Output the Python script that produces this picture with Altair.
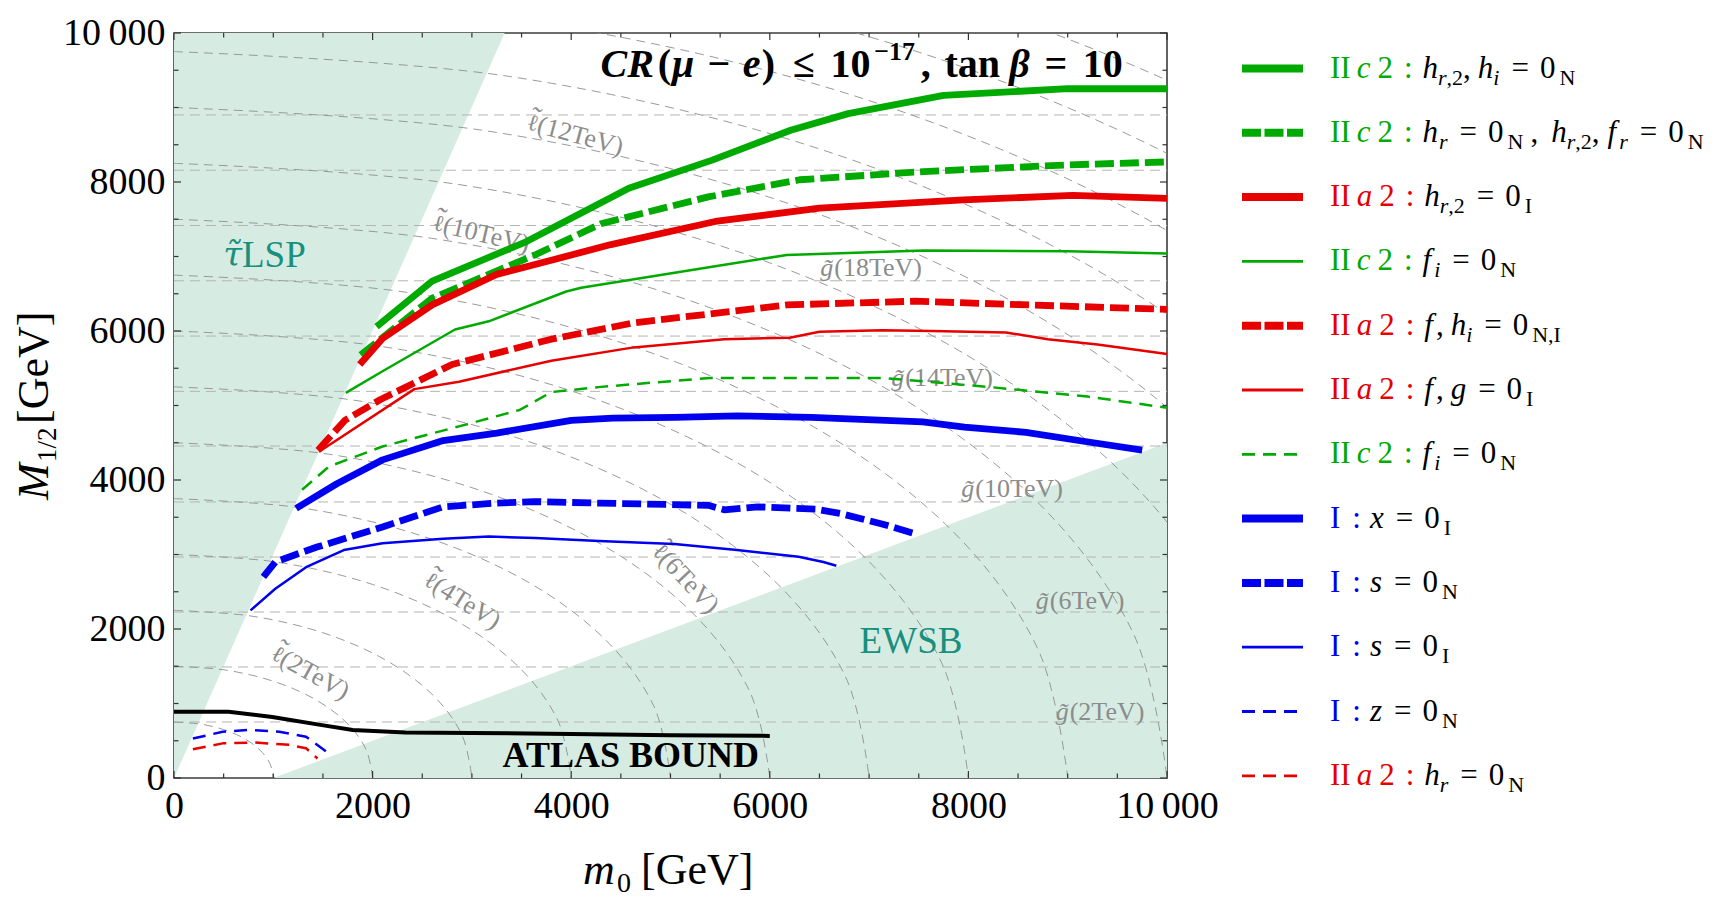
import math
import altair as alt
import pandas as pd

FONT = "Liberation Serif"
FONT2 = "DejaVu Serif"
W, H = 993, 745
PAD_L, PAD_T, PAD_R, PAD_B = 174, 33, 563, 137

GREEN, RED, BLUE = "#00aa00", "#e60000", "#0000ee"
TEAL, FILL = "#17907f", "#d6ece3"
GRID_H, GRID_ARC, LABEL_GRAY = "#b4b4b4", "#8e8e8e", "#8c8c8c"

# ---------------- curves (m0 [GeV], M1/2 [GeV]) ----------------
g_thick_m0 = [2040, 2600, 3550, 4580, 5420, 6210, 6790, 7750, 9000, 10000]
g_thick_m12 = [6060, 6670, 7200, 7915, 8294, 8695, 8918, 9163, 9252, 9252]

g_thickdash_m0 = [1880, 2600, 3650, 4300, 5380, 6300, 7550, 9000, 10000]
g_thickdash_m12 = [5680, 6440, 7030, 7440, 7800, 8030, 8140, 8230, 8270]

r_thick_m0 = [1870, 2100, 2600, 3250, 3800, 4400, 5450, 6500, 7950, 9050, 10000]
r_thick_m12 = [5550, 5900, 6350, 6760, 6950, 7160, 7470, 7650, 7760, 7820, 7780]

g_thin_m0 = [1730, 2100, 2830, 3170, 3950, 4100, 5450, 6170, 7550, 9000, 10000]
g_thin_m12 = [5170, 5460, 6020, 6130, 6530, 6580, 6870, 7020, 7080, 7070, 7040]

r_thickdash_m0 = [1450, 1720, 2080, 2800, 3800, 4630, 6170, 7460, 8380, 10000]
r_thickdash_m12 = [4400, 4800, 5080, 5550, 5890, 6110, 6350, 6400, 6360, 6290]

r_thin_m0 = [1460, 2420, 2870, 3800, 4630, 5540, 6200, 6500, 7130, 7630, 8380, 8800, 9300, 10000]
r_thin_m12 = [4380, 5220, 5320, 5600, 5780, 5890, 5910, 5990, 6010, 6000, 5980, 5890, 5820, 5690]

g_thindash_m0 = [1290, 1560, 2100, 2870, 3480, 3800, 4300, 5400, 7130, 8200, 9200, 10000]
g_thindash_m12 = [3870, 4180, 4450, 4720, 4940, 5180, 5250, 5370, 5370, 5250, 5120, 4970]

b_thick_m0 = [1230, 1640, 2100, 2710, 3250, 4000, 4420, 5040, 5670, 6420, 7540, 7960, 8580, 9210, 9750]
b_thick_m12 = [3620, 3950, 4270, 4530, 4630, 4800, 4830, 4840, 4860, 4840, 4780, 4710, 4640, 4510, 4400]

b_thickdash_m0 = [900, 1020, 1440, 2100, 2710, 3250, 3630, 4280, 5380, 5540, 5880, 6460, 6710, 7130, 7460]
b_thickdash_m12 = [2700, 2900, 3100, 3370, 3640, 3690, 3710, 3690, 3660, 3600, 3640, 3610, 3550, 3410, 3280]

b_thin_m0 = [770, 1020, 1330, 1710, 2100, 2710, 3170, 3640, 4280, 5040, 5670, 6290, 6540, 6670]
b_thin_m12 = [2250, 2540, 2830, 3060, 3150, 3210, 3240, 3220, 3180, 3140, 3060, 2970, 2900, 2850]

b_thindash_m0 = [190, 490, 760, 1060, 1330, 1550]
b_thindash_m12 = [530, 620, 645, 620, 555, 340]

r_thindash_m0 = [190, 490, 820, 1160, 1330, 1445]
r_thindash_m12 = [385, 465, 475, 445, 400, 262]

atlas_m0 = [0, 550, 990, 1490, 1800, 2330, 3000, 4000, 5000, 6000]
atlas_m12 = [890, 890, 820, 710, 645, 610, 605, 590, 575, 565]

# ---------------- excluded regions ----------------
lsp_m0 = [0, 3330]
lsp_m12_low = [0, 10000]
lsp_m12_high = [10000, 10000]
ewsb_m0 = [1000, 10000]
ewsb_m12_low = [0, 0]
ewsb_m12_high = [0, 4500]

# ---------------- background mass contours ----------------
gluino_contour_m12 = [752, 1490, 2228, 2966, 3705, 4456, 5190, 5932, 6674, 7416, 8158, 8900]

slepton_contours = {
    1: ([0, 259, 500, 707, 866, 966, 1000], [750, 725, 650, 530, 375, 194, 0]),
    2: ([0, 518, 1000, 1414, 1732, 1932, 2000], [1500, 1449, 1299, 1061, 750, 389, 0]),
    3: ([0, 777, 1500, 2121, 2598, 2898, 3000], [2250, 2174, 1949, 1591, 1125, 583, 0]),
    4: ([0, 1036, 2000, 2828, 3464, 3864, 4000], [3000, 2898, 2598, 2121, 1500, 777, 0]),
    5: ([0, 1295, 2500, 3536, 4330, 4830, 5000], [3750, 3623, 3248, 2652, 1875, 971, 0]),
    6: ([0, 1554, 3000, 4243, 5196, 5796, 6000], [4500, 4347, 3897, 3182, 2250, 1166, 0]),
    7: ([0, 1813, 3500, 4950, 6062, 6762, 7000], [5250, 5071, 4547, 3712, 2625, 1360, 0]),
    8: ([0, 2072, 4000, 5657, 6928, 7728, 8000], [6000, 5796, 5196, 4243, 3000, 1554, 0]),
    9: ([0, 2331, 4500, 6364, 7794, 8694, 9000], [6750, 6521, 5846, 4773, 3375, 1748, 0]),
    10: ([0, 2590, 5000, 7071, 8660, 9660, 10000], [7500, 7245, 6495, 5303, 3750, 1943, 0]),
    11: ([0, 2849, 5500, 7778, 9526, 10626, 11000], [8250, 7970, 7145, 5834, 4125, 2137, 0]),
    12: ([0, 3108, 6000, 8485, 10392, 11592, 12000], [9000, 8694, 7794, 6364, 4500, 2331, 0]),
    13: ([0, 3367, 6500, 9192, 11258, 12558, 13000], [9750, 9419, 8444, 6894, 4875, 2525, 0]),
    14: ([0, 3626, 7000, 9899, 12124, 13524, 14000], [10500, 10143, 9093, 7425, 5250, 2720, 0]),
    15: ([0, 3885, 7500, 10607, 12990, 14490, 15000], [11250, 10868, 9743, 7955, 5625, 2914, 0]),
    16: ([0, 4144, 8000, 11314, 13856, 15456, 16000], [12000, 11592, 10392, 8485, 6000, 3108, 0]),
}

contour_label_glyph = ["ℓ", "ℓ", "ℓ", "ℓ", "ℓ", "g", "g", "g", "g", "g"]
contour_label_mass = ["(12TeV)", "(10TeV)", "(6TeV)", "(4TeV)", "(2TeV)",
                      "(18TeV)", "(14TeV)", "(10TeV)", "(6TeV)", "(2TeV)"]
contour_label_m0 = [4048, 3102, 5156, 2910, 1380, 7029, 7744, 8449, 9134, 9335]
contour_label_m12 = [8631, 7302, 2671, 2376, 1409, 6846, 5369, 3879, 2376, 886]
contour_label_angle = [15, 13, 47, 32, 29, 0, 0, 0, 0, 0]

lsp_label_m0, lsp_label_m12 = 685, 7007
ewsb_label_m0, ewsb_label_m12 = 7422, 1826
atlas_label = "ATLAS BOUND"
atlas_label_m0, atlas_label_m12 = 4600, 296

tick_positions = list(range(0, 10001, 500))
major_ticks = [0, 2000, 4000, 6000, 8000, 10000]

THICK, THIN = 6.8, 2.5
DASH_THICK, DASH_THIN = [19, 6], [13, 8]
LDASH_THICK = [19, 3.5]

series = [
    (g_thick_m0, g_thick_m12, GREEN, THICK, None, None),
    (g_thickdash_m0, g_thickdash_m12, GREEN, THICK, DASH_THICK, LDASH_THICK),
    (r_thick_m0, r_thick_m12, RED, THICK, None, None),
    (g_thin_m0, g_thin_m12, GREEN, THIN, None, None),
    (r_thickdash_m0, r_thickdash_m12, RED, THICK, DASH_THICK, LDASH_THICK),
    (r_thin_m0, r_thin_m12, RED, THIN, None, None),
    (g_thindash_m0, g_thindash_m12, GREEN, THIN, DASH_THIN, DASH_THIN),
    (b_thick_m0, b_thick_m12, BLUE, THICK, None, None),
    (b_thickdash_m0, b_thickdash_m12, BLUE, THICK, DASH_THICK, LDASH_THICK),
    (b_thin_m0, b_thin_m12, BLUE, THIN, None, None),
    (b_thindash_m0, b_thindash_m12, BLUE, THIN, DASH_THIN, DASH_THIN),
    (r_thindash_m0, r_thindash_m12, RED, THIN, DASH_THIN, DASH_THIN),
]

# ---------------- scales / axes ----------------
XS = alt.Scale(domain=[0, 10000], nice=False, zero=False)
YS = alt.Scale(domain=[0, 10000], nice=False, zero=False)
LBL = "datum.value >= 10000 ? '10\u2009000' : datum.label"


def axis():
    return alt.Axis(values=major_ticks, format="d", labelExpr=LBL, title=None, ticks=False,
                    domain=False, grid=False, labelFont=FONT, labelFontSize=38,
                    labelColor="black", labelPadding=9, labelFlush=False, labelOverlap=False)


def X(f):
    return alt.X(f, type="quantitative", scale=XS, axis=axis())


def Y(f):
    return alt.Y(f, type="quantitative", scale=YS, axis=axis())


def px2m0(px):
    return (px - PAD_L) / W * 10000


def py2m12(py):
    return (H - (py - PAD_T)) / H * 10000


def m02px(m):
    return PAD_L + m / 10000 * W


def m122py(m):
    return PAD_T + H - m / 10000 * H


# ---------------- text layout helpers ----------------
TW = {' ': 0.25, ',': 0.25, ':': 0.278, '=': 0.564, '(': 0.333, ')': 0.333, '[': 0.333, ']': 0.333,
      '/': 0.278, '≤': 0.549, '−': 0.564, 'I': 0.333, 'N': 0.722, 'C': 0.667, 'R': 0.667,
      'G': 0.722, 'V': 0.722, 'M': 0.833, 'T': 0.611, 'h': 0.5, 'r': 0.389, 'f': 0.278, 'i': 0.278,
      'g': 0.5, 'x': 0.444, 's': 0.389, 'z': 0.389, 'c': 0.444, 'a': 0.5, 'e': 0.444, 'm': 0.722,
      't': 0.278, 'n': 0.5, 'μ': 0.576, 'β': 0.5, 'ℓ': 0.42, '\u0303': 0.0}


def tw(s, fs, bold=False):
    return sum(TW.get(c, 0.5) for c in s) * fs * (1.07 if bold else 1.0)


records = []


def add(m0, m12, txt, col, fs, style="normal", weight="normal", ang=0, align="left",
        base="alphabetic", font=FONT):
    records.append(dict(m0=m0, M=m12, txt=txt, col=col, fs=fs, ang=ang, style=style,
                        weight=weight, align=align, base=base, font=font))


def add_px(px, py, *a, **k):
    add(px2m0(px), py2m12(py), *a, **k)


def layout(segs, x0, base, kinds, dry=False):
    x = x0
    for s in segs:
        if isinstance(s, (int, float)):
            x += s
            continue
        txt, kind = s[0], s[1]
        col = s[2] if len(s) > 2 else "black"
        fs, dy, style, weight = kinds[kind]
        if not dry:
            add_px(x, base + dy, txt, col, fs, style, weight)
        x += tw(txt, fs, weight == "bold")
    return x


# ---------------- legend ----------------
MAIN, SUB = 31, 22
LK = {"P": (MAIN, 0, "normal", "normal"), "Pi": (MAIN, 0, "italic", "normal"),
      "M": (MAIN, 0, "italic", "normal"), "R": (MAIN, 0, "normal", "normal"),
      "S": (SUB, 7, "italic", "normal"), "Sr": (SUB, 7, "normal", "normal")}


def pre(letter, col):
    return [("II", "P", col), 6, (letter, "Pi", col), 7, ("2", "P", col), 11, (":", "P", col), 10]


def preI(col):
    return [("I", "P", col), 12, (":", "P", col), 9]


EQ = [12, ("=", "R"), 11, ("0", "R"), 4]
legend_rows = [
    pre("c", GREEN) + [("h", "M"), ("r", "S"), (",2", "Sr"), (",", "R"), 7, ("h", "M"), ("i", "S")] + EQ + [("N", "Sr")],
    pre("c", GREEN) + [("h", "M"), 1, ("r", "S")] + EQ + [("N", "Sr"), 7, (",", "R"), 13, ("h", "M"), ("r", "S"),
                                                         (",2", "Sr"), (",", "R"), 8, ("f", "M"), 3, ("r", "S")] + EQ + [("N", "Sr")],
    pre("a", RED) + [("h", "M"), ("r", "S"), (",2", "Sr")] + EQ + [("I", "Sr")],
    pre("c", GREEN) + [("f", "M"), 3, ("i", "S")] + EQ + [("N", "Sr")],
    pre("a", RED) + [("f", "M"), 3, (",", "R"), 7, ("h", "M"), ("i", "S")] + EQ + [("N,I", "Sr")],
    pre("a", RED) + [("f", "M"), 3, (",", "R"), 7, ("g", "M")] + EQ + [("I", "Sr")],
    pre("c", GREEN) + [("f", "M"), 3, ("i", "S")] + EQ + [("N", "Sr")],
    preI(BLUE) + [("x", "M")] + EQ + [("I", "Sr")],
    preI(BLUE) + [("s", "M")] + EQ + [("N", "Sr")],
    preI(BLUE) + [("s", "M")] + EQ + [("I", "Sr")],
    preI(BLUE) + [("z", "M")] + EQ + [("N", "Sr")],
    pre("a", RED) + [("h", "M"), ("r", "S")] + EQ + [("N", "Sr")],
]
LEG_X1, LEG_X2, LEG_TX = 1242, 1303, 1330
ROW0, ROWSTEP = 68.5, 64.3
for i, segs in enumerate(legend_rows):
    ly = ROW0 + ROWSTEP * i
    layout(segs, LEG_TX, ly + 9, LK)

# ---------------- title ----------------
TK = {"B": (40, 0, "normal", "bold"), "BI": (40, 0, "italic", "bold"), "Bsup": (26, -17, "normal", "bold")}
title_segs = [("CR", "BI"), ("(", "B"), ("μ", "BI"), 11, ("−", "B"), 11, ("e", "BI"), (")", "B"), 17,
              ("≤", "B"), 14, ("10", "B"), 1, ("−17", "Bsup"), 3, (",", "B"), 13, ("tan", "B"), 10,
              ("β", "BI"), 14, ("=", "B"), 14, ("10", "B")]
tw_total = layout(title_segs, 0, 0, TK, dry=True)
layout(title_segs, 863 - tw_total / 2, 77, TK)

# ---------------- axis titles ----------------
add_px(583, 884, "m", "black", 44, "italic")
add_px(617, 892, "0", "black", 28)
add_px(641, 884, "[GeV]", "black", 44)
add_px(48, 500, "M", "black", 44, "italic", ang=270)
add_px(56, 462, "1/2", "black", 27, ang=270)
add_px(48, 424, "[GeV]", "black", 44, ang=270)

# ---------------- in-plot labels ----------------
LFS = 26
for gl, ms, a, b, g in zip(contour_label_glyph, contour_label_mass, contour_label_m0,
                           contour_label_m12, contour_label_angle):
    is_l = gl == "ℓ"
    gfont = FONT2 if is_l else FONT
    gfs = LFS - 3 if is_l else LFS
    w1 = tw(gl, gfs) + 1
    w2 = tw(ms, LFS)
    cx, cy = m02px(a), m122py(b)
    ca, sa = math.cos(math.radians(g)), math.sin(math.radians(g))
    sx, sy = cx - (w1 + w2) / 2 * ca, cy - (w1 + w2) / 2 * sa
    if is_l:
        add_px(sx, sy, gl, LABEL_GRAY, gfs, ang=g, align="left", base="middle", font=gfont)
    else:
        add_px(sx, sy, gl + "\u0303", LABEL_GRAY, gfs, "italic", ang=g, align="left", base="middle", font=gfont)
    add_px(sx + w1 * ca, sy + w1 * sa, ms, LABEL_GRAY, LFS, ang=g, align="left", base="middle")
    if is_l:
        # wide tilde placed above the script l
        mx, my = sx + (w1 / 2 + 1) * ca, sy + (w1 / 2 + 1) * sa
        d = 0.2 * LFS
        add_px(mx + d * sa, my - d * ca, "\u02dc", LABEL_GRAY, LFS + 4, ang=g, align="center",
               base="middle")

add(lsp_label_m0, lsp_label_m12, "τ\u0303", TEAL, 34, "italic", align="right", base="middle", font=FONT2)
add(lsp_label_m0, lsp_label_m12, "LSP", TEAL, 37, align="left", base="middle")
add(ewsb_label_m0, ewsb_label_m12, "EWSB", TEAL, 37, align="center", base="middle")
add(atlas_label_m0, atlas_label_m12, atlas_label, "black", 36, weight="bold", align="center", base="middle")

# ---------------- build layers ----------------
layers = []

lsp_df = pd.DataFrame({"m0": lsp_m0, "lo": lsp_m12_low, "hi": lsp_m12_high})
ewsb_df = pd.DataFrame({"m0": ewsb_m0, "lo": ewsb_m12_low, "hi": ewsb_m12_high})
for df in (lsp_df, ewsb_df):
    layers.append(alt.Chart(df).mark_area(color=FILL, opacity=1).encode(
        x=X("m0"), y=Y("lo"), y2=alt.Y2("hi")))

glu_df = pd.DataFrame({"M": gluino_contour_m12})
layers.append(alt.Chart(glu_df).mark_rule(color=GRID_H, strokeWidth=1, strokeDash=[10, 6]).encode(
    y=Y("M"), x=alt.value(0), x2=alt.value(W)))

arc_rows = []
for k, (xs, ys) in slepton_contours.items():
    for i, (a, b) in enumerate(zip(xs, ys)):
        arc_rows.append({"k": k, "i": i, "m0": a, "M": b})
arc_df = pd.DataFrame(arc_rows)
layers.append(alt.Chart(arc_df).mark_line(color=GRID_ARC, strokeWidth=0.9, strokeDash=[9, 6],
                                          interpolate="cardinal", clip=True).encode(
    x=X("m0"), y=Y("M"), detail="k:N", order="i:Q"))

rec_df = pd.DataFrame(records)


def text_layers(df):
    out = []
    keys = ["style", "weight", "align", "base", "font"]
    for (style, weight, align, base, font), grp in df.groupby(keys):
        g = grp.drop(columns=keys).reset_index(drop=True)
        out.append(alt.Chart(g).mark_text(font=font, fontStyle=style, fontWeight=weight,
                                          align=align, baseline=base).encode(
            x=X("m0"), y=Y("M"), text="txt:N",
            color=alt.Color("col:N", scale=None),
            size=alt.Size("fs:Q", scale=None),
            angle=alt.Angle("ang:Q", scale=None)))
    return out


gray_labels = rec_df[rec_df["col"] == LABEL_GRAY]
other_text = rec_df[rec_df["col"] != LABEL_GRAY]
layers += text_layers(gray_labels)

# ATLAS bound
atl_df = pd.DataFrame({"m0": atlas_m0, "M": atlas_m12, "i": range(len(atlas_m0))})
layers.append(alt.Chart(atl_df).mark_line(color="black", strokeWidth=4).encode(
    x=X("m0"), y=Y("M"), order="i:Q"))

# data curves + legend samples
for idx, (xs, ys, col, wdt, dash, ldash) in enumerate(series):
    df = pd.DataFrame({"m0": xs, "M": ys, "i": range(len(xs))})
    kw = dict(color=col, strokeWidth=wdt, strokeJoin="round")
    if dash:
        kw["strokeDash"] = dash
    layers.append(alt.Chart(df).mark_line(**kw).encode(x=X("m0"), y=Y("M"), order="i:Q"))
    ly = ROW0 + ROWSTEP * idx
    ldf = pd.DataFrame({"a": [px2m0(LEG_X1)], "b": [px2m0(LEG_X2)], "y": [py2m12(ly)]})
    rkw = dict(color=col, strokeWidth=8 if wdt == THICK else 2.8)
    if ldash:
        rkw["strokeDash"] = ldash
    layers.append(alt.Chart(ldf).mark_rule(**rkw).encode(x=X("a"), x2=alt.X2("b"), y=Y("y")))

layers += text_layers(other_text)

# inward frame ticks
tick_df = pd.DataFrame({"t": tick_positions, "major": [t in major_ticks for t in tick_positions]})
for major, ln in ((True, 7), (False, 4.5)):
    d = tick_df[tick_df["major"] == major]
    tk = dict(color="#333333", strokeWidth=1.2)
    layers.append(alt.Chart(d).mark_rule(**tk).encode(x=X("t"), y=alt.value(H), y2=alt.value(H - ln)))
    layers.append(alt.Chart(d).mark_rule(**tk).encode(x=X("t"), y=alt.value(0), y2=alt.value(ln)))
    layers.append(alt.Chart(d).mark_rule(**tk).encode(y=Y("t"), x=alt.value(0), x2=alt.value(ln)))
    layers.append(alt.Chart(d).mark_rule(**tk).encode(y=Y("t"), x=alt.value(W), x2=alt.value(W - ln)))

chart = alt.layer(*layers).properties(
    width=W, height=H,
    autosize=alt.AutoSizeParams(type="none"),
    padding={"left": PAD_L, "top": PAD_T, "right": PAD_R, "bottom": PAD_B},
    background="white",
).configure_view(stroke="#3c3c3c", strokeWidth=1.6)

chart.save("out.html", embed_options={"renderer": "svg", "actions": False})
